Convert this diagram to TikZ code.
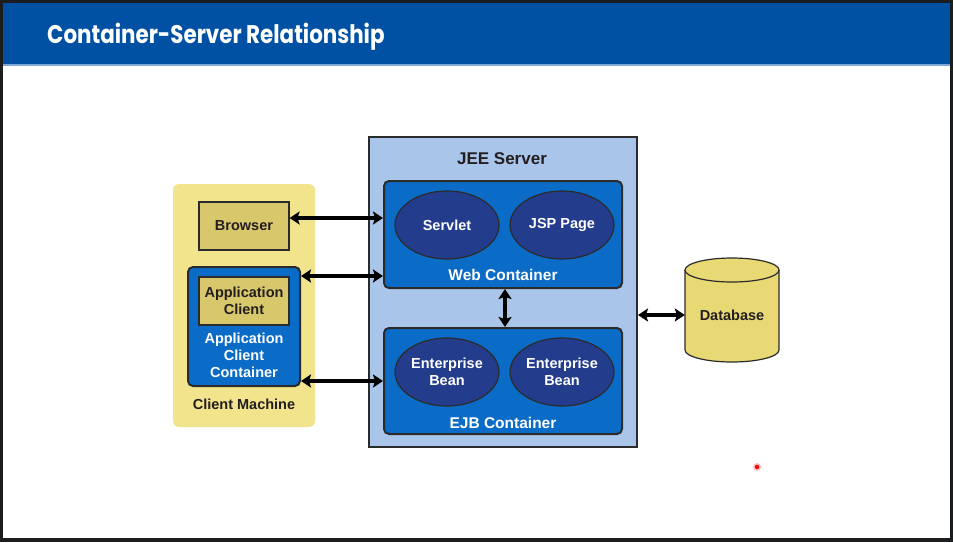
\documentclass[tikz,border=0pt]{standalone}
\usepackage{fontspec}
\setmainfont{Liberation Sans}
\newfontfamily\titlefont[FakeStretch=0.84]{Poppins}
\usetikzlibrary{arrows.meta,shapes.geometric}
\definecolor{framebg}{HTML}{1C1D1F}
\definecolor{titleblue}{HTML}{0050A4}
\definecolor{lineblue}{HTML}{7FA8D8}
\definecolor{clientyellow}{HTML}{F2E48C}
\definecolor{khaki}{HTML}{D9C76C}
\definecolor{contblue}{HTML}{0A6CC6}
\definecolor{navy}{HTML}{233C8C}
\definecolor{jeeblue}{HTML}{AAC5EA}
\definecolor{dbyellow}{HTML}{E8D975}
\definecolor{ink}{HTML}{231F20}
\definecolor{edge}{HTML}{2B2B2B}
\tikzset{
  lbl/.style={font=\bfseries\fontsize{14.5}{17}\selectfont, text=ink, inner sep=0pt, align=center},
  wlbl/.style={font=\bfseries\fontsize{14.5}{17}\selectfont, text=white, inner sep=0pt, align=center},
  khakibox/.style={draw=edge, line width=1.2pt, fill=khaki, inner sep=0pt},
  container/.style={draw=edge, line width=2pt, fill=contblue, rounded corners=5pt, inner sep=0pt},
  comp/.style={draw=edge, line width=1.2pt, fill=navy, ellipse, inner sep=0pt, minimum width=104pt, minimum height=68pt, font=\bfseries\fontsize{14.5}{17}\selectfont, text=white, align=center},
  dbl/.style={line width=3.5pt, draw=black, {Stealth[length=10pt,width=13pt,inset=2pt]}-{Stealth[length=10pt,width=13pt,inset=2pt]}}
}
\begin{document}
\begin{tikzpicture}[x=1pt,y=-1pt]
\useasboundingbox (0,0) rectangle (953,542);
\fill[framebg] (0,0) rectangle (953,542);
\fill[white] (3,3) rectangle (950,538);
\fill[titleblue] (3,3) rectangle (950,64);
\fill[lineblue] (3,64) rectangle (950,66);
\node[anchor=base west, text=white, font=\titlefont\bfseries\fontsize{25.5}{30}\selectfont, inner sep=0pt] (title) at (47,43) {Container-Server Relationship};

% client machine
\node[fill=clientyellow, rounded corners=6pt, minimum width=142pt, minimum height=243pt, inner sep=0pt] (client) at (244,305.5) {};
\node[khakibox, minimum width=90pt, minimum height=48pt, lbl] (browser) at (244,226) {Browser};
\node[container, minimum width=112pt, minimum height=119pt] (acc) at (244,326.5) {};
\node[khakibox, minimum width=90pt, minimum height=48pt, lbl] (appclient) at (244,301) {Application\\Client};
\node[wlbl] (acclbl) at (244,355) {Application\\Client\\Container};
\node[lbl] (cmlbl) at (244,404) {Client Machine};

% JEE server
\node[draw=edge, line width=2pt, fill=jeeblue, minimum width=268pt, minimum height=310pt, inner sep=0pt] (jee) at (503,292) {};
\node[lbl, font=\bfseries\fontsize{17}{20}\selectfont] (jeelbl) at (502,159) {JEE Server};
\node[container, minimum width=238pt, minimum height=107pt] (web) at (503,234.5) {};
\node[comp] (servlet) at (447,225) {Servlet};
\node[comp] (jsp) at (562,225) {JSP Page};
\node[wlbl, font=\bfseries\fontsize{15.5}{18}\selectfont] (weblbl) at (503,275) {Web Container};
\node[container, minimum width=238pt, minimum height=106pt] (ejb) at (503,381) {};
\node[comp] (eb1) at (447,372) {Enterprise\\Bean};
\node[comp] (eb2) at (562,372) {Enterprise\\Bean};
\node[wlbl, font=\bfseries\fontsize{15.5}{18}\selectfont] (ejblbl) at (503,423) {EJB Container};

% database
\draw[edge, line width=1.2pt, fill=dbyellow] (685,270) -- (685,350) arc[start angle=180, end angle=0, x radius=47, y radius=12] -- (779,270);
\draw[edge, line width=1.2pt, fill=dbyellow] (732,270) ellipse[x radius=47, y radius=12];
\node[lbl, minimum width=94pt] (db) at (732,315) {Database};

% connectors
\draw[dbl] ([yshift=8pt]browser.east) -- ([yshift=8pt]browser.east -| web.west);
\draw[dbl] ([yshift=-10pt]acc.north east) -- ([yshift=-10pt]acc.north east -| web.west);
\draw[dbl] ([yshift=6pt]acc.south east) -- ([yshift=6pt]acc.south east -| ejb.west);
\draw[dbl] ([xshift=2pt]web.south) -- ([xshift=2pt]ejb.north);
\draw[dbl] (db.west -| jee.east) -- (db.west);

% pointer
\fill[red!25] (757,467) circle[radius=4];
\fill[red] (757,467) circle[radius=2.2];
\end{tikzpicture}
\end{document}
